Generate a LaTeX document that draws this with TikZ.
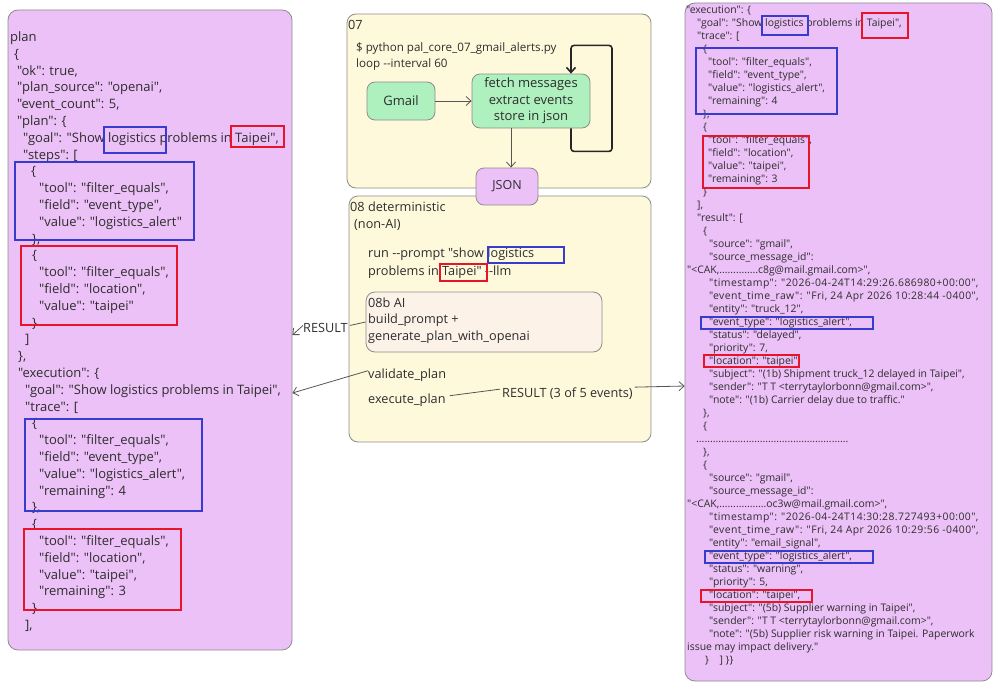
\documentclass[tikz,border=0pt]{standalone}
\usepackage{fontspec}
\setmainfont{Open Sans}[Ligatures=TeXOff]
\usetikzlibrary{arrows.meta}
\definecolor{pinkfill}{RGB}{236,193,247}
\definecolor{creamfill}{RGB}{255,249,220}
\definecolor{greenfill}{RGB}{174,240,190}
\definecolor{peachfill}{RGB}{253,242,232}
\definecolor{bordergray}{RGB}{140,140,140}
\definecolor{textgray}{RGB}{45,45,45}
\definecolor{linegray}{RGB}{85,85,85}
\definecolor{hlblue}{RGB}{55,60,205}
\definecolor{hlred}{RGB}{232,20,40}
\newcommand{\wide}[1]{{\addfontfeature{LetterSpace=4}#1}}
\begin{document}
\begin{tikzpicture}[x=1pt,y=-1pt,
  panel/.style={draw=bordergray, line width=0.8pt, rounded corners=10pt, fill=pinkfill, inner sep=0pt},
  group/.style={draw=bordergray, line width=0.8pt, rounded corners=9pt, fill=creamfill, inner sep=0pt},
  proc/.style={draw=bordergray, line width=0.8pt, rounded corners=8pt, fill=greenfill, inner sep=0pt, align=center, text=textgray, font=\fontsize{13}{16.5}\selectfont},
  ltxt/.style={anchor=base west, inner sep=0pt, text=textgray, font=\fontsize{13}{15}\selectfont},
  rtxt/.style={anchor=base west, inner sep=0pt, text=textgray, font=\fontsize{10.4}{13}\selectfont},
  mtxt/.style={anchor=base west, inner sep=0pt, text=textgray, font=\fontsize{12.7}{15}\selectfont},
  stxt/.style={anchor=base west, inner sep=0pt, text=textgray, font=\fontsize{11.6}{14}\selectfont},
  conn/.style={draw=linegray, line width=0.8pt},
  arr/.style={conn, -{Straight Barb[length=5pt,width=9pt]}},
  loopline/.style={draw=black!85, line width=1.6pt, rounded corners=3pt, -{Straight Barb[length=5pt,width=9pt]}},
  bluebox/.style={draw=hlblue, line width=1.8pt},
  redbox/.style={draw=hlred, line width=1.8pt}]
\useasboundingbox (0,0) rectangle (1000,685);

% ---------- panels ----------
\node[panel, minimum width=284pt, minimum height=640pt] (planpanel) at (150,330) {};
\node[panel, minimum width=307pt, minimum height=678pt] (execpanel) at (838.5,342) {};
\node[group, minimum width=304pt, minimum height=174pt] (box07) at (499,101) {};
\node[group, minimum width=302pt, minimum height=246pt] (box08) at (500,319) {};
\node[panel, rounded corners=8pt, minimum width=62pt, minimum height=37pt, text=textgray, font=\fontsize{12.5}{16}\selectfont] (json) at (507,186.5) {JSON};

% ---------- left panel text ----------
\foreach \x/\t [count=\i] in {
 10/{plan},
 14/{\{},
 17/{"ok": true,},
 17/{"plan\_source": "openai",},
 17/{"event\_count": 5,},
 17/{"plan": \{},
 23/{"goal": "Show logistics problems in Taipei",},
 23/{"steps": [},
 31/{\{},
 39/{"tool": "filter\_equals",},
 39/{"field": "event\_type",},
 39/{"value": "logistics\_alert"},
 32/{\},},
 32/{\{},
 39/{"tool": "filter\_equals",},
 39/{"field": "location",},
 39/{"value": "taipei"},
 32/{\}},
 25/{]},
 18/{\},},
 18/{"execution": \{},
 25/{"goal": "Show logistics problems in Taipei",},
 25/{"trace": [},
 32/{\{},
 39/{"tool": "filter\_equals",},
 39/{"field": "event\_type",},
 39/{"value": "logistics\_alert",},
 39/{"remaining": 4},
 32/{\},},
 32/{\{},
 39/{"tool": "filter\_equals",},
 39/{"field": "location",},
 39/{"value": "taipei",},
 39/{"remaining": 3},
 32/{\}},
 25/{],}}
 { \node[ltxt] (L\i) at (\x, {37+(\i-1)*16.8+4.5}) {\t}; }

% ---------- right panel text ----------
\foreach \x/\t [count=\i] in {
 686/{"execution": \{},
 697/{"goal": "Show logistics problems in Taipei",},
 697/{"trace": [},
 703/{\{},
 708/{"tool": "filter\_equals",},
 708/{"field": "event\_type",},
 708/{"value": "logistics\_alert",},
 708/{"remaining": 4},
 703/{\},},
 703/{\{},
 708/{"tool": "filter\_equals",},
 708/{"field": "location",},
 708/{"value": "taipei",},
 708/{"remaining": 3},
 703/{\}},
 697/{],},
 697/{"result": [},
 703/{\{},
 709/{"source": "gmail",},
 709/{"source\_message\_id":},
 687/{"<CAK,..............c8g@mail.gmail.com>",},
 709/{\wide{"timestamp": "2026-04-24T14:29:26.686980+00:00",}},
 709/{\wide{"event\_time\_raw": "Fri, 24 Apr 2026 10:28:44 -0400",}},
 709/{"entity": "truck\_12",},
 709/{"event\_type": "logistics\_alert",},
 709/{"status": "delayed",},
 709/{"priority": 7,},
 709/{"location": "taipei",},
 709/{"subject": "(1b) Shipment truck\_12 delayed in Taipei",},
 709/{"sender": "T T <terrytaylorbonn@gmail.com>",},
 709/{"note": "(1b) Carrier delay due to traffic."},
 703/{\},},
 703/{\{},
 696/{.......................................................},
 703/{\},},
 703/{\{},
 709/{"source": "gmail",},
 709/{"source\_message\_id":},
 687/{"<CAK,.................oc3w@mail.gmail.com>",},
 709/{\wide{"timestamp": "2026-04-24T14:30:28.727493+00:00",}},
 709/{\wide{"event\_time\_raw": "Fri, 24 Apr 2026 10:29:56 -0400",}},
 709/{"entity": "email\_signal",},
 709/{"event\_type": "logistics\_alert",},
 709/{"status": "warning",},
 709/{"priority": 5,},
 709/{"location": "taipei",},
 709/{"subject": "(5b) Supplier warning in Taipei",},
 709/{"sender": "T T <terrytaylorbonn@gmail.com>",},
 709/{"note": "(5b) Supplier risk warning in Taipei. Paperwork},
 687/{issue may impact delivery."},
 705/{\}\quad ] \}\}}}
 { \node[rtxt] (R\i) at (\x, {10+(\i-1)*13+3.6}) {\t}; }

% ---------- 07 group ----------
\node[mtxt] (t07) at (348,30) {07};
\node[stxt] (cmd1) at (356,52) {\$ python pal\_core\_07\_gmail\_alerts.py};
\node[stxt] (cmd2) at (356,67) {loop --interval 60};
\node[proc, minimum width=68pt, minimum height=38pt] (gmail) at (401,101) {Gmail};
\node[proc, minimum width=118pt, minimum height=54pt] (fetch) at (531,101) {fetch messages\\extract events\\store in json};
\draw[arr] (gmail) -- (fetch);
\draw[arr] ([xshift=-20pt]fetch.south) -- ([xshift=-20pt]fetch.south |- json.north);
\draw[loopline] ([xshift=40pt]fetch.south) -- ++(0,23) -- ++(41,0) -- ++(0,-106) -- ++(-41,0) -- ([xshift=40pt]fetch.north);

% ---------- 08 group ----------
\node[mtxt] (t08a) at (350,211) {08 deterministic};
\node[mtxt] (t08b) at (354,228) {(non-AI)};
\node[mtxt] (run1) at (368,257) {run --prompt "show logistics};
\node[mtxt] (run2) at (368,275) {problems in Taipei" --llm};
\node[draw=bordergray, line width=0.8pt, rounded corners=9pt, fill=peachfill, minimum width=236pt, minimum height=60pt, inner sep=0pt] (ai) at (484,322) {};
\node[mtxt] (ai1) at (368,307) {08b AI};
\node[mtxt] (ai2) at (368,323) {build\_prompt +};
\node[mtxt] (ai3) at (368,340) {generate\_plan\_with\_openai};
\node[mtxt] (resL) at (303,332) {RESULT};
\node[mtxt] (validate) at (368,378) {validate\_plan};
\node[mtxt] (execute) at (368,403) {execute\_plan};
\node[mtxt] (resR) at (502,397) {RESULT (3 of 5 events)};

\draw[conn] (ai.west) -- ([xshift=2pt,yshift=2pt]resL.east);
\draw[arr] ([yshift=2pt]resL.west) -- ([yshift=-5pt]planpanel.east);
\draw[arr] ([yshift=4pt]validate.west) -- ([yshift=-63pt]planpanel.east);
\draw[conn] ([xshift=4pt,yshift=4pt]execute.east) -- ([xshift=-2pt,yshift=4pt]resR.west);
\draw[arr] ([xshift=2pt,yshift=6pt]resR.east) -- ([yshift=-44pt]execpanel.west);

% ---------- highlight boxes ----------
\draw[bluebox] (104,127) rectangle (166,153);
\draw[redbox] (231,126) rectangle (284,147);
\draw[bluebox] (15,162) rectangle (194,240);
\draw[redbox] (21,246) rectangle (177,325);
\draw[bluebox] (25,419) rectangle (202,511);
\draw[redbox] (24,529) rectangle (181,610);
\draw[bluebox] (488,247) rectangle (564,263);
\draw[redbox] (440,264) rectangle (487,281);
\draw[bluebox] (762,16) rectangle (808,35);
\draw[redbox] (862,13) rectangle (908,38);
\draw[bluebox] (696,48) rectangle (837,114);
\draw[redbox] (703,136) rectangle (809,188);
\draw[bluebox] (701,317) rectangle (873,329);
\draw[redbox] (704,355) rectangle (799,367);
\draw[bluebox] (705,551) rectangle (873,563);
\draw[redbox] (701,590) rectangle (812,602);
\end{tikzpicture}
\end{document}
